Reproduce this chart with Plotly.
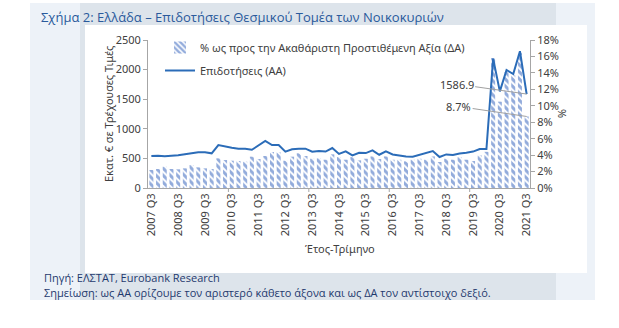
import plotly.graph_objects as go

# Quarterly series, 2007 Q3 - 2021 Q3
years = list(range(2007, 2022))
all_quarters = [f"{y} Q{q}" for y in years for q in range(1, 5)]
quarters = all_quarters[2:2 + 57]

# Subsidies to households, EUR million, current prices (left axis)
subsidies = [540, 546, 535, 540, 552, 569, 586, 603, 603, 586,
             726, 698, 681, 664, 664, 645, 720, 795, 726, 726,
             613, 653, 664, 664, 613, 625, 615, 675, 575, 618,
             550, 595, 590, 635, 562, 618, 567, 545, 534, 528,
             562, 595, 624, 523, 567, 556, 584, 595, 615, 659,
             659, 2185, 1632, 1993, 1925, 2310, 1586.9]

# Subsidies as % of gross value added (right axis)
pct_gva = [2.19, 2.31, 2.59, 2.31, 2.27, 2.39, 2.80, 2.51, 2.39, 2.31,
           3.61, 3.40, 3.32, 3.28, 3.20, 3.81, 3.53, 3.89, 4.38, 4.34,
           3.32, 3.81, 4.22, 3.89, 3.57, 3.61, 3.44, 4.09, 3.76, 3.44,
           3.76, 3.36, 3.56, 3.84, 3.52, 3.84, 3.44, 3.44, 3.24, 3.44,
           3.56, 3.44, 3.84, 3.16, 3.56, 3.44, 3.76, 3.44, 3.28, 3.96,
           4.40, 15.8, 10.5, 14.1, 13.7, 16.4, 8.7]

tick_labels = quarters[::4]

W, H = 619, 328
PL, PR, PT, PB = 148, 530, 40, 188


def px(x):
    return (x - PL) / (PR - PL)


def py(y):
    return (PB - y) / (PB - PT)


FONT = "Noto Sans"
TXT = "#404040"
AXC = "#a6a6a6"
BLUE = "#2b6cb8"

fig = go.Figure()

fig.add_trace(go.Bar(
    x=quarters, y=pct_gva, yaxis="y",
    name="% ως προς την Ακαθάριστη Προστιθέμενη Αξία (ΔΑ)",
    legendgroup="a",
    marker=dict(color="white", line=dict(width=0),
                pattern=dict(shape="\\", fgcolor="#2557b8", bgcolor="white",
                             size=5, solidity=0.6)),
))

fig.add_trace(go.Scatter(
    x=quarters, y=subsidies, yaxis="y2", mode="lines",
    name="Επιδοτήσεις (ΑΑ)", legendgroup="b",
    line=dict(color=BLUE, width=2),
))

shapes = [
    # page backdrop boxes
    dict(type="rect", xref="paper", yref="paper", layer="below",
         x0=px(30), x1=px(595), y0=py(3), y1=py(300),
         fillcolor="#edf2f8", line=dict(width=0)),
    dict(type="rect", xref="paper", yref="paper", layer="below",
         x0=px(80), x1=px(556), y0=py(3), y1=py(300),
         fillcolor="#dde4eb", line=dict(width=0)),
    dict(type="rect", xref="paper", yref="paper", layer="below",
         x0=px(85), x1=px(587), y0=py(25), y1=py(273),
         fillcolor="white", line=dict(width=0)),
]
# category-axis tick marks every three years
for b in [11.5, 23.5, 35.5, 47.5]:
    shapes.append(dict(type="line", xref="x", yref="paper",
                       x0=b, x1=b, y0=0, y1=-4 / (PB - PT),
                       line=dict(color=AXC, width=1)))

annotations = [
    dict(text="Σχήμα 2: Ελλάδα – Επιδοτήσεις Θεσμικού Τομέα των Νοικοκυριών",
         xref="paper", yref="paper", x=px(39), y=py(17),
         xanchor="left", yanchor="middle", showarrow=False,
         font=dict(family="Open Sans", size=13, color="#2a5a9c")),
    dict(text="Πηγή: ΕΛΣΤΑΤ, Eurobank Research",
         xref="paper", yref="paper", x=px(42), y=py(277),
         xanchor="left", yanchor="middle", showarrow=False,
         font=dict(family="Open Sans", size=11, color="#1f3a6e")),
    dict(text="Σημείωση: ως ΑΑ ορίζουμε τον αριστερό κάθετο άξονα και ως ΔΑ τον αντίστοιχο δεξιό.",
         xref="paper", yref="paper", x=px(42), y=py(292),
         xanchor="left", yanchor="middle", showarrow=False,
         font=dict(family="Open Sans", size=11, color="#1f3a6e")),
    dict(text="Εκατ. € σε Τρέχουσες Τιμές", textangle=-90,
         xref="paper", yref="paper", x=px(108), y=py(114),
         xanchor="center", yanchor="middle", showarrow=False,
         font=dict(family=FONT, size=11, color=TXT)),
    dict(text="%", textangle=90,
         xref="paper", yref="paper", x=px(563), y=py(113),
         xanchor="center", yanchor="middle", showarrow=False,
         font=dict(family=FONT, size=11, color=TXT)),
    dict(text="Έτος-Τρίμηνο",
         xref="paper", yref="paper", x=px(340), y=py(248),
         xanchor="center", yanchor="middle", showarrow=False,
         font=dict(family=FONT, size=11, color=TXT)),
    dict(text=f"{subsidies[-1]}", xref="x", yref="y2",
         x=quarters[-1], y=subsidies[-1], ax=-70, ay=-10,
         showarrow=True, arrowhead=0, arrowwidth=1, arrowcolor="#a0a0a0",
         standoff=0, font=dict(family=FONT, size=11, color=TXT)),
    dict(text=f"{pct_gva[-1]}%", xref="x", yref="y",
         x=quarters[-1], y=pct_gva[-1], ax=-68, ay=-10,
         showarrow=True, arrowhead=0, arrowwidth=1, arrowcolor="#a0a0a0",
         standoff=0, font=dict(family=FONT, size=11, color=TXT)),
]

fig.update_layout(
    width=W, height=H, autosize=False,
    margin=dict(l=PL, r=W - PR, t=PT, b=H - PB, pad=0),
    paper_bgcolor="white", plot_bgcolor="rgba(0,0,0,0)",
    font=dict(family=FONT, size=11, color=TXT),
    bargap=0.4,
    showlegend=True,
    legend=dict(x=px(160), y=py(33), xanchor="left", yanchor="top",
                bgcolor="rgba(0,0,0,0)", traceorder="grouped",
                tracegroupgap=4, font=dict(family=FONT, size=11, color=TXT)),
    xaxis=dict(type="category", range=[-0.5, len(quarters) - 0.5],
               tickmode="array", tickvals=tick_labels, ticktext=tick_labels,
               tickangle=-90, ticks="", showgrid=False, zeroline=False,
               showline=True, linecolor=AXC, linewidth=1,
               tickfont=dict(family=FONT, size=11, color=TXT)),
    yaxis=dict(side="right", range=[0, 18], dtick=2, ticksuffix="%",
               ticks="outside", ticklen=4, tickcolor=AXC,
               showgrid=False, zeroline=False,
               showline=True, linecolor=AXC, linewidth=1,
               tickfont=dict(family=FONT, size=11, color=TXT)),
    yaxis2=dict(side="left", overlaying="y", range=[0, 2500], dtick=500,
                ticks="outside", ticklen=4, tickcolor=AXC,
                showgrid=False, zeroline=False,
                showline=True, linecolor=AXC, linewidth=1,
                tickfont=dict(family=FONT, size=11, color=TXT)),
    shapes=shapes,
    annotations=annotations,
)

fig.write_html("out.html")
